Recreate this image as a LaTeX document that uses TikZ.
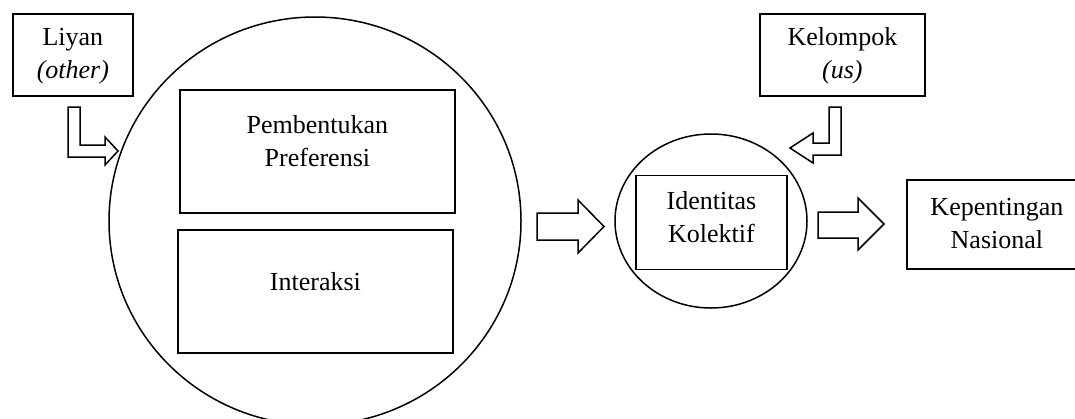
\documentclass[tikz,border=0pt]{standalone}
\usepackage{fontspec}
\setmainfont{Liberation Serif}
\usetikzlibrary{shapes.geometric}
\begin{document}
\begin{tikzpicture}[x=1pt,y=-1pt,
  line width=1.5pt,
  txt/.style={align=center,inner sep=0pt,font=\fontsize{26}{33}\selectfont},
  boxnode/.style={draw,line width=1.8pt,inner sep=0pt,anchor=north west},
  blockarrow/.style={draw,line width=1.5pt,line join=miter,fill=white}]
\useasboundingbox (0,0) rectangle (1075,418);
\begin{scope}
\clip (0,0) rectangle (1075,418);
% big circle
\node[draw,ellipse,minimum width=412pt,minimum height=408pt,inner sep=0pt] (big) at (315,221) {};
% small ellipse
\node[draw,ellipse,minimum width=192pt,minimum height=174pt,inner sep=0pt] (small) at (711,221) {};
% boxes
\node[boxnode,minimum width=120pt,minimum height=82pt] (liyan) at (12,13) {};
\node[txt] (liyantxt) at ([yshift=-1pt]liyan.center) {Liyan\\\textit{(other)}};
\node[boxnode,minimum width=165pt,minimum height=82pt] (kel) at (759,13) {};
\node[txt] (keltxt) at ([yshift=-1pt]kel.center) {Kelompok\\\textit{(us)}};
\node[boxnode,minimum width=275pt,minimum height=123pt] (pref) at (179,89) {};
\node[txt] (preftxt) at ([yshift=10pt]pref.center) {Pembentukan\\Preferensi};
\node[boxnode,minimum width=275pt,minimum height=123pt] (inter) at (177,229) {};
\node[txt] (intertxt) at ([yshift=10pt]inter.center) {Interaksi};
\node[boxnode,minimum width=151pt,minimum height=94pt] (ident) at (635,174.5) {};
\node[txt] (identtxt) at ([yshift=5pt]ident.center) {Identitas\\Kolektif};
\node[boxnode,minimum width=180pt,minimum height=89pt] (kep) at (906,179) {};
\node[txt] (keptxt) at ([yshift=1pt]kep.center) {Kepentingan\\Nasional};
% L-shaped block arrows
\draw[blockarrow] (68,107) -- (80,107) -- (80,145) -- (105,145) -- (105,137) -- (118,151)
  -- (105,165) -- (105,157) -- (68,157) -- cycle;
\draw[blockarrow] (829,107) -- (841,107) -- (841,155) -- (813,155) -- (813,163) -- (790,148)
  -- (813,133) -- (813,143) -- (829,143) -- cycle;
% straight block arrows
\draw[blockarrow] (537,213) -- (578,213) -- (578,200) -- (604,226.5) -- (578,253) -- (578,240)
  -- (537,240) -- cycle;
\draw[blockarrow] (818,212) -- (858,212) -- (858,198) -- (884,224) -- (858,250) -- (858,238)
  -- (818,238) -- cycle;
\end{scope}
\end{tikzpicture}
\end{document}
